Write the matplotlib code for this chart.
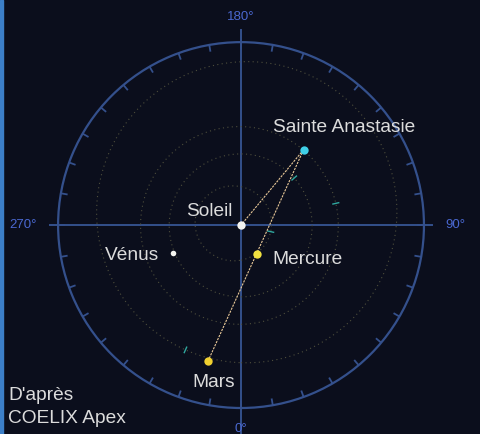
import numpy as np
import matplotlib.pyplot as plt
from matplotlib.patches import Rectangle

# positions héliocentriques (longitude en degrés, distance en UA)
bodies = ["Soleil", "Mercure", "Vénus", "Sainte Anastasie", "Mars"]
longitudes = [0.0, 29.0, 292.4, 140.3, 346.4]
distances = [0.0, 0.33, 0.74, 0.99, 1.41]
colors = ["#f4f4f0", "#f0e040", "#f4f4f0", "#40d0e8", "#f0d030"]
sizes = [6, 6, 4, 6, 6]

# orbites (demi-grand axe, excentricité, longitude du périhélie)
orbit_a = [0.387, 0.723, 1.0, 1.524]
orbit_e = [0.206, 0.0068, 0.0167, 0.0934]
orbit_peri = [77.5, 131.5, 102.9, 336.0]

# lignes de visée : Sainte Anastasie -> Soleil et Sainte Anastasie -> Mars
sight_from = "Sainte Anastasie"
sight_to = ["Soleil", "Mars"]

axis_labels = ["0°", "90°", "180°", "270°"]
axis_angles = [0, 90, 180, 270]
label_r = [2.06, 2.17, 2.10, 2.21]
tick_angles = np.arange(0, 360, 10)

bg = "#0b0e1c"
blue = "#34508c"
txt = "#dcdcdc"

plt.rcParams['font.family'] = ['Liberation Sans', 'DejaVu Sans']

fig = plt.figure(figsize=(4.81, 4.34), dpi=100, facecolor=bg)
ax = fig.add_axes([0.1206, 0.0599, 0.761, 0.843], projection='polar', facecolor=bg)
ax.set_theta_zero_location('S')
ax.set_theta_direction(1)
ax.set_rlim(0, 1.85)

# bande claire sur le bord gauche (scan)
fig.patches.append(Rectangle((0, 0), 0.007, 1, transform=fig.transFigure,
                             color="#3c7fc8", zorder=0))

# cercle extérieur + graduations tous les 10°
ax.spines['polar'].set_color(blue)
ax.spines['polar'].set_linewidth(1.6)
ax.set_xticks([])
ax.set_yticks([])
ax.grid(False)
for ang in tick_angles:
    ax.plot([np.deg2rad(ang)] * 2, [1.85, 1.79], color=blue, lw=1.3, zorder=1)

# axes en croix
for ang, rmax in zip(axis_angles, [2.2, 1.93, 1.97, 1.93]):
    ax.plot([np.deg2rad(ang)] * 2, [0, rmax], color=blue, lw=1.4,
            clip_on=False, zorder=1)
for lab, ang, r in zip(axis_labels, axis_angles, label_r):
    ax.text(np.deg2rad(ang), r, lab, color="#4a68d0", fontsize=9.5,
            ha='center', va='center', clip_on=False)

# orbites et repères de périhélie
th = np.linspace(0, 2 * np.pi, 400)
for a, e, w in zip(orbit_a, orbit_e, orbit_peri):
    r = a * (1 - e ** 2) / (1 + e * np.cos(th - np.deg2rad(w)))
    ax.plot(th, r, color="#4e4e3c", lw=0.8, ls=(0, (1, 3)), zorder=1)
    rp = a * (1 - e)
    ax.plot([np.deg2rad(w)] * 2, [rp - 0.03, rp + 0.03], color="#30a8a0",
            lw=1.0, zorder=2)

# lignes de visée
i0 = bodies.index(sight_from)
for name in sight_to:
    i1 = bodies.index(name)
    ax.plot([np.deg2rad(longitudes[i0]), np.deg2rad(longitudes[i1])],
            [distances[i0], distances[i1]], color="#e8c898", lw=0.8,
            ls=(0, (2, 1)), zorder=3)

# corps
for name, lon, d, c, s in zip(bodies, longitudes, distances, colors, sizes):
    ax.plot(np.deg2rad(lon), d, 'o', color=c, ms=s, mec='none', zorder=4)

# étiquettes
offsets = {
    "Sainte Anastasie": ((-22, 16), 'left'),
    "Soleil": ((-6, 9.5), 'right'),
    "Vénus": ((-10, -2), 'right'),
    "Mercure": ((11, -4), 'left'),
    "Mars": ((-11.5, -16), 'left'),
}
for name, lon, d in zip(bodies, longitudes, distances):
    off, ha = offsets[name]
    ax.annotate(name, (np.deg2rad(lon), d), xytext=off, textcoords='offset points',
                color=txt, fontsize=13.8, ha=ha, va='center', zorder=5,
                annotation_clip=False)

fig.text(0.017, 0.088, "D'après", color=txt, fontsize=13.8, ha='left', va='center')
fig.text(0.017, 0.035, "COELIX Apex", color=txt, fontsize=13.8, ha='left', va='center')

fig.savefig("out.png", dpi=100, facecolor=bg)
